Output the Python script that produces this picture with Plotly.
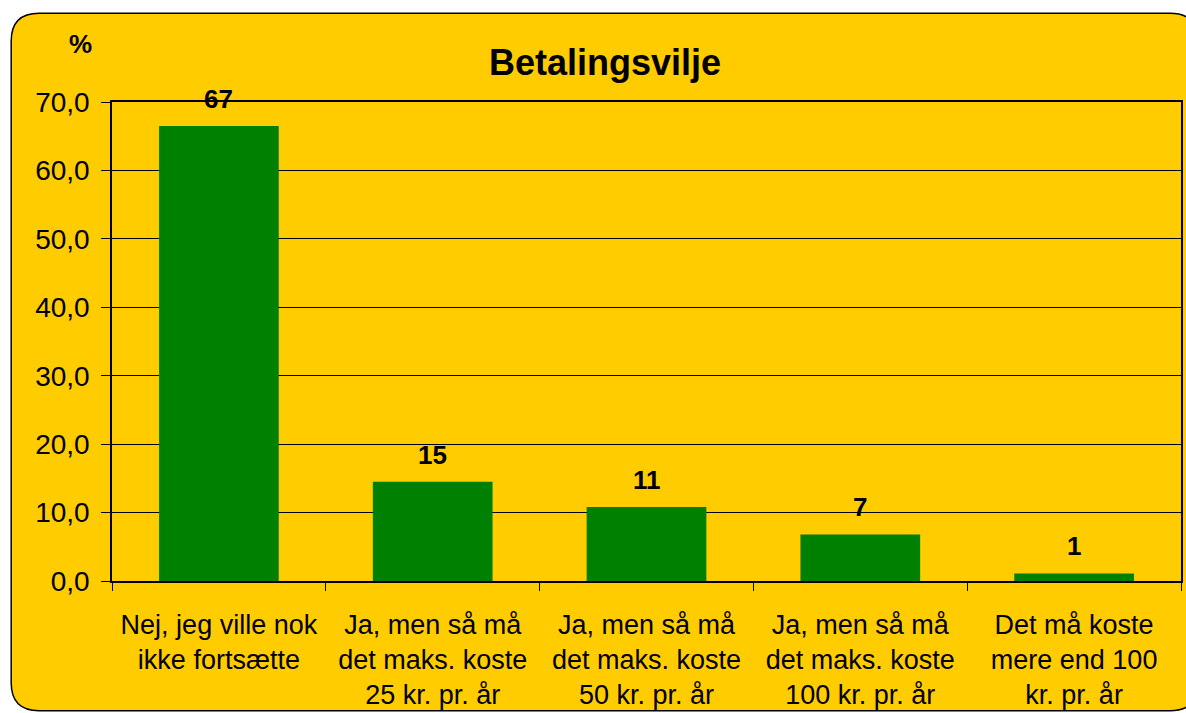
import plotly.graph_objects as go

categories = [
    "Nej, jeg ville nok<br>ikke fortsætte",
    "Ja, men så må<br>det maks. koste<br>25 kr. pr. år",
    "Ja, men så må<br>det maks. koste<br>50 kr. pr. år",
    "Ja, men så må<br>det maks. koste<br>100 kr. pr. år",
    "Det må koste<br>mere end 100<br>kr. pr. år",
]
values = [66.5, 14.5, 10.8, 6.8, 1.1]
labels = ["67", "15", "11", "7", "1"]

W, H = 1186, 713
L, R, T, B = 112, 3, 102, 131
pw, ph = W - L - R, H - T - B

def px(x):
    return (x - L) / pw

def py(y):
    return (H - B - y) / ph

FONT = "Liberation Sans, Arial, sans-serif"
YELLOW = "#FFCC00"

fig = go.Figure()
fig.add_trace(go.Bar(
    x=categories, y=values, marker_color="#008000", marker_line_width=0,
    hoverinfo="x+y",
))

for c, v, t in zip(categories, values, labels):
    fig.add_annotation(x=c, y=v, text=f"<b>{t}</b>", showarrow=False,
                       xanchor="center", yanchor="bottom", yshift=10,
                       font=dict(family=FONT, size=26, color="black"))

# rounded chart area background
x0, x1, y0, y1 = px(11), px(1200), py(13), py(712)
rx, ry = 28 / pw, 28 / ph
path = (f"M {x0+rx},{y0} L {x1-rx},{y0} Q {x1},{y0} {x1},{y0-ry} "
        f"L {x1},{y1+ry} Q {x1},{y1} {x1-rx},{y1} L {x0+rx},{y1} "
        f"Q {x0},{y1} {x0},{y1+ry} L {x0},{y0-ry} Q {x0},{y0} {x0+rx},{y0} Z")
fig.add_shape(type="path", path=path, xref="paper", yref="paper",
              fillcolor=YELLOW, line=dict(color="black", width=1.5), layer="below")

fig.add_annotation(text="<b>%</b>", x=px(80), y=py(44), xref="paper", yref="paper",
                   xanchor="center", yanchor="middle",
                   showarrow=False, font=dict(family=FONT, size=26, color="black"))

fig.update_layout(
    width=W, height=H,
    margin=dict(l=L, r=R, t=T, b=B),
    paper_bgcolor="white", plot_bgcolor="rgba(0,0,0,0)",
    separators=",.",
    bargap=0.44,
    showlegend=False,
    title=dict(text="<b>Betalingsvilje</b>", x=605 / W, xanchor="center",
               y=1 - 62 / H, yanchor="middle",
               font=dict(family=FONT, size=36, color="black")),
    font=dict(family=FONT, color="black"),
)
fig.update_yaxes(range=[0, 70], dtick=10, tickformat=".1f",
                 showgrid=True, gridcolor="black", gridwidth=1,
                 showline=True, linecolor="black", linewidth=1.5, mirror=True,
                 ticks="outside", ticklen=9, tickcolor="black",
                 tickfont=dict(family=FONT, size=28, color="black"),
                 ticklabelstandoff=6,
                 zeroline=False)
fig.update_xaxes(showline=True, linecolor="black", linewidth=1.5, mirror=True,
                 ticks="outside", ticklen=8, tickcolor="black", tickson="boundaries",
                 tickfont=dict(family=FONT, size=27, color="black"),
                 ticklabelstandoff=19)

fig.write_html("out.html", config={"displayModeBar": False},
               post_script="document.body.style.margin='0';"
                           "document.body.style.overflow='hidden';")
